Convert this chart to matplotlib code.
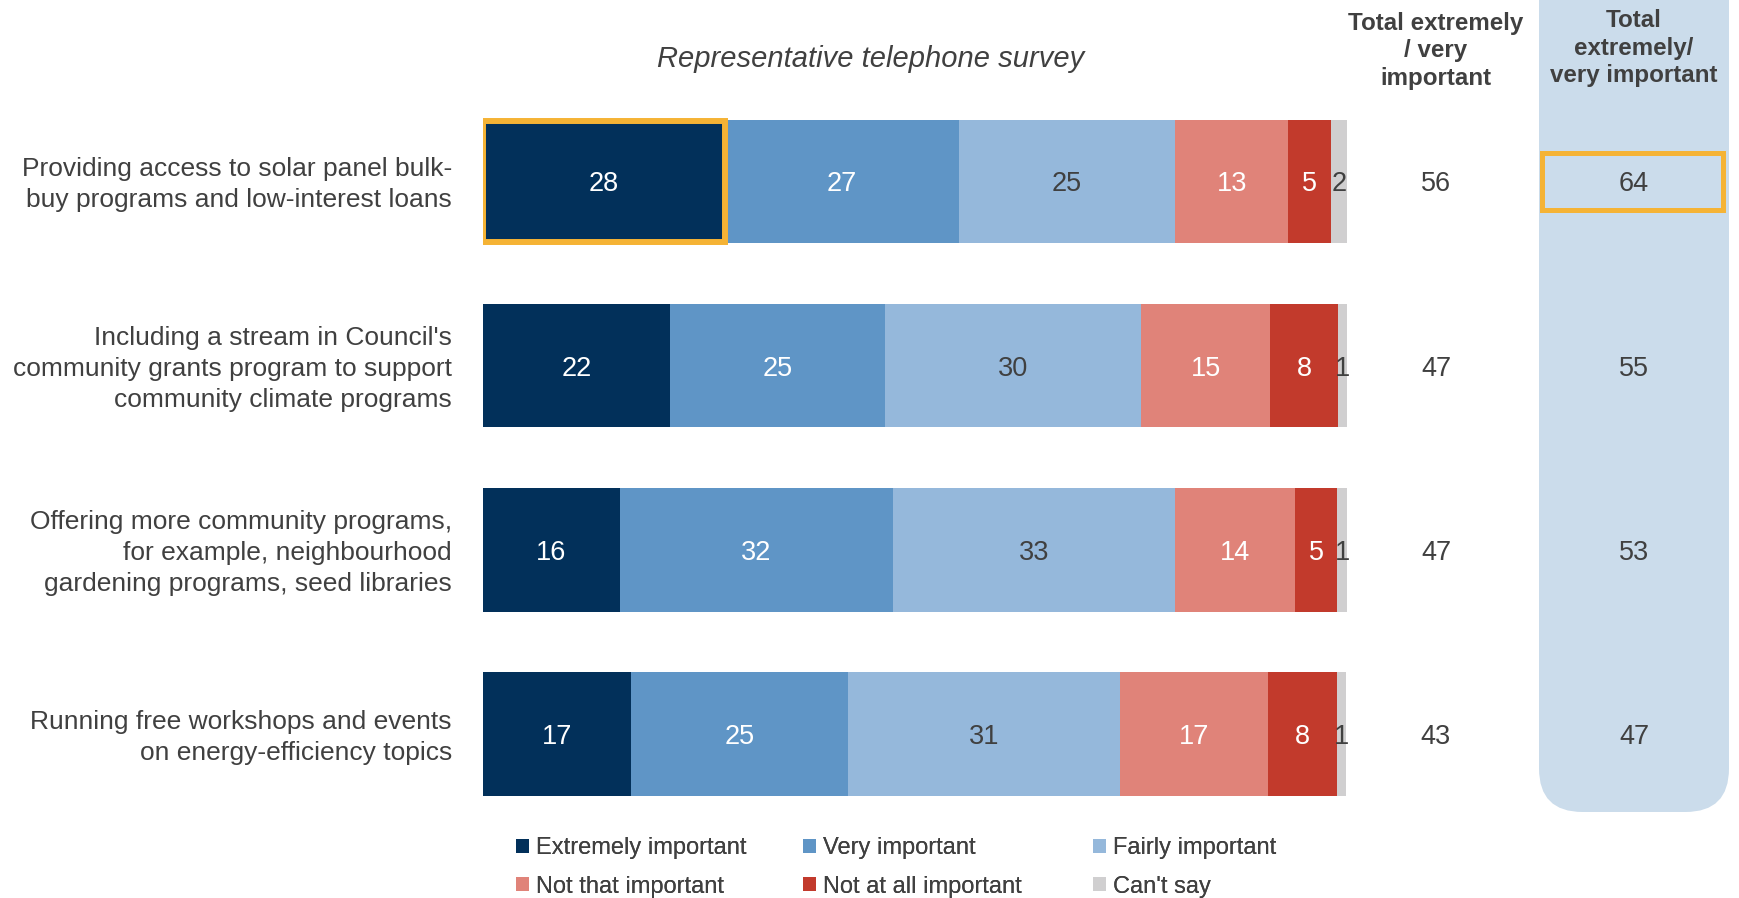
import matplotlib
matplotlib.use("Agg")
import matplotlib.pyplot as plt
from matplotlib.patches import FancyBboxPatch, Patch, Rectangle
from matplotlib.transforms import blended_transform_factory, offset_copy
import numpy as np

plt.rcParams['font.family'] = ['Liberation Sans', 'DejaVu Sans']

categories = [
    "Providing access to solar panel bulk-\nbuy programs and low-interest loans",
    "Including a stream in Council's\ncommunity grants program to support\ncommunity climate programs",
    "Offering more community programs,\nfor example, neighbourhood\ngardening programs, seed libraries",
    "Running free workshops and events\non energy-efficiency topics",
]
series_names = ["Extremely important", "Very important", "Fairly important",
                "Not that important", "Not at all important", "Can't say"]
# bar lengths (labels shown rounded)
extremely = [28.0, 21.7, 15.8, 17.1]
very = [27.1, 24.8, 31.7, 25.2]
fairly = [25.0, 29.7, 32.6, 31.4]
not_that = [13.1, 14.9, 13.9, 17.1]
not_at_all = [4.9, 7.85, 4.9, 8.0]
cant_say = [2.1, 1.1, 1.1, 1.1]
total_phone = [56, 47, 47, 43]
total_other = [64, 55, 53, 47]

colors = ["#02305A", "#5F95C6", "#95B8DB", "#E08379", "#C23A2C", "#D0CFD0"]
label_colors = ["white", "white", "#404040", "white", "white", "#404040"]
TXT = "#404040"
ORANGE = "#F5B335"

W, H = 1740, 898
fig = plt.figure(figsize=(W / 100, H / 100), dpi=100)

# right shaded panel
panel = FancyBboxPatch((1539 / W, (H - 812) / H), 190 / W, 900 / H,
                       boxstyle="round,pad=0,rounding_size=0.025",
                       transform=fig.transFigure, facecolor="#CBDCEB",
                       edgecolor="none", zorder=-5, mutation_aspect=W / H)
fig.patches.append(panel)

ax = fig.add_axes([483 / W, 1 - 826.2 / H, 864 / W, (826.2 - 89.3) / H])
ax.set_zorder(2)
ax.patch.set_visible(False)
ax.set_xlim(0, 100)
ax.set_ylim(3.5, -0.5)
ax.axis("off")

data = [extremely, very, fairly, not_that, not_at_all, cant_say]
y = np.arange(len(categories))
bar_h = 0.67
left = np.zeros(len(categories))
for i, vals in enumerate(data):
    vals = np.array(vals, dtype=float)
    ax.barh(y, vals, left=left, height=bar_h, color=colors[i], edgecolor="none",
            label=series_names[i], zorder=2)
    for j, v in enumerate(vals):
        ax.text(left[j] + v / 2, y[j], f"{v:.0f}", ha="center", va="center_baseline",
                fontsize=19.5, color=label_colors[i], zorder=4)
    left += vals

# highlight box on first segment
ax.barh([0], [extremely[0]], left=0, height=bar_h - 0.01, fill=False,
        edgecolor=ORANGE, linewidth=4.3, zorder=5)

# category labels (nudged up slightly)
lab_tr = offset_copy(ax.transData, fig=fig, x=0, y=2.5, units="dots")
for j, c in enumerate(categories):
    ax.text(-(483 - 452) / 8.64, y[j], c, ha="right", va="center_baseline",
            fontsize=19, color=TXT, linespacing=1.36, transform=lab_tr)

# totals columns
tr = blended_transform_factory(fig.transFigure, ax.transData)
for j in range(len(categories)):
    ax.text(1436 / W, y[j], f"{total_phone[j]}", transform=tr, ha="center",
            va="center_baseline", fontsize=19.5, color=TXT)
    ax.text(1634 / W, y[j], f"{total_other[j]}", transform=tr, ha="center",
            va="center_baseline", fontsize=19.5, color=TXT)

# orange box around first right-column value
box_h = 57 / 184.2
rect = Rectangle((1542 / W, y[0] - box_h / 2), 181 / W, box_h, transform=tr,
                 fill=False, edgecolor=ORANGE, linewidth=3.6, zorder=5)
rect.set_clip_on(False)
ax.add_patch(rect)

# headers
fig.text(871 / W, 1 - 59 / H, "Representative telephone survey", ha="center",
         va="center", fontsize=21, style="italic", color=TXT)
fig.text(1436 / W, 1 - 51 / H, "Total extremely\n/ very\nimportant", ha="center",
         va="center", fontsize=17.4, fontweight="bold", color=TXT, linespacing=1.23)
fig.text(1634 / W, 1 - 48 / H, "Total\nextremely/\nvery important", ha="center",
         va="center", fontsize=17.4, fontweight="bold", color=TXT, linespacing=1.26)

# legend: three columns placed at fixed positions
col_x = [516, 803, 1093]
col_items = [[0, 3], [1, 4], [2, 5]]
for cx, items in zip(col_x, col_items):
    handles = [Patch(facecolor=colors[k], edgecolor="none") for k in items]
    labels = [series_names[k] for k in items]
    leg = fig.legend(handles, labels, ncol=1, loc="upper left",
                     bbox_to_anchor=(cx / W, 1 - 837 / H), frameon=False,
                     fontsize=17, handlelength=0.55, handleheight=0.55,
                     handletextpad=0.3, labelspacing=0.7,
                     borderpad=0, borderaxespad=0)
    for t in leg.get_texts():
        t.set_color(TXT)
    fig.add_artist(leg)

fig.savefig("out.png", dpi=100)
